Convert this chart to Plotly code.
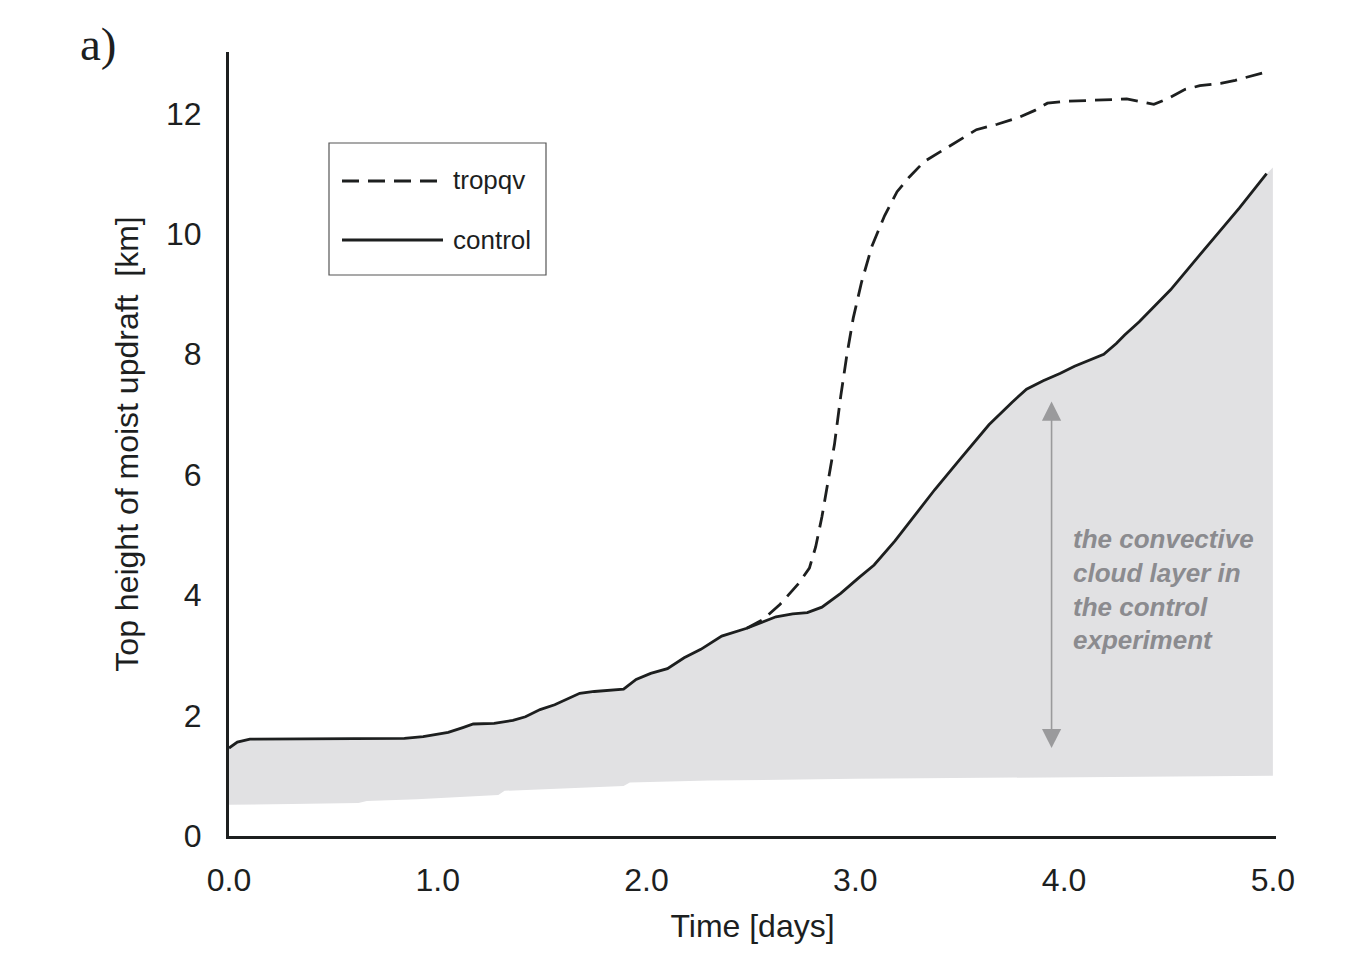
import plotly.graph_objects as go

# Time axis in days, heights in km
control_t = [0.0, 0.04, 0.1, 0.3, 0.5, 0.7, 0.84, 0.93, 1.05, 1.12, 1.17, 1.27, 1.36, 1.42,
             1.49, 1.56, 1.62, 1.68, 1.75, 1.89, 1.95, 2.02, 2.1, 2.18, 2.26, 2.36, 2.48,
             2.56, 2.62, 2.70, 2.77, 2.84, 2.93, 3.02, 3.09, 3.19, 3.28, 3.38, 3.5, 3.64,
             3.75, 3.82, 3.9, 3.98, 4.05, 4.12, 4.19, 4.25, 4.29, 4.36, 4.51, 4.65, 4.84, 4.97]
control_km = [1.46, 1.56, 1.61, 1.61, 1.61, 1.62, 1.62, 1.65, 1.72, 1.80, 1.86, 1.87, 1.92, 1.98,
              2.10, 2.18, 2.28, 2.37, 2.40, 2.44, 2.60, 2.70, 2.78, 2.96, 3.10, 3.32, 3.45,
              3.56, 3.64, 3.69, 3.71, 3.80, 4.03, 4.30, 4.50, 4.90, 5.30, 5.75, 6.25, 6.83,
              7.20, 7.42, 7.56, 7.68, 7.80, 7.90, 8.00, 8.18, 8.32, 8.54, 9.07, 9.65, 10.43, 11.00]

tropqv_t = [2.48, 2.56, 2.64, 2.73, 2.78, 2.81, 2.84, 2.87, 2.9, 2.93, 2.96, 2.99, 3.03, 3.08,
            3.14, 3.2, 3.26, 3.33, 3.4, 3.5, 3.58, 3.68, 3.78, 3.86, 3.92, 4.0, 4.1, 4.2,
            4.3, 4.36, 4.43, 4.5, 4.58, 4.65, 4.75, 4.82, 4.9, 4.98]
tropqv_km = [3.45, 3.60, 3.85, 4.20, 4.45, 4.80, 5.30, 5.90, 6.50, 7.30, 8.00, 8.60, 9.20, 9.80,
             10.30, 10.70, 10.95, 11.20, 11.35, 11.55, 11.73, 11.82, 11.93, 12.05, 12.17, 12.20,
             12.21, 12.23, 12.24, 12.20, 12.15, 12.25, 12.40, 12.46, 12.50, 12.55, 12.63, 12.70]

# Cloud-base height of the convective layer in the control run
base_t = [0.0, 0.1, 0.3, 0.62, 0.66, 0.9, 1.1, 1.29, 1.32, 1.6, 1.89, 1.92, 2.3, 3.0, 4.0, 5.0]
base_km = [0.52, 0.52, 0.53, 0.55, 0.58, 0.61, 0.64, 0.68, 0.75, 0.79, 0.83, 0.89, 0.92, 0.95, 0.98, 1.0]

layer_end_t = 5.0
layer_end_top = 11.1

x_ticks = [0.0, 1.0, 2.0, 3.0, 4.0, 5.0]
x_ticklabels = ["0.0", "1.0", "2.0", "3.0", "4.0", "5.0"]
y_ticks = [0, 2, 4, 6, 8, 10, 12]

series_names = ["tropqv", "control"]
arrow_t = 3.94
arrow_span = [1.46, 7.24]
layer_note = "the convective<br>cloud layer in<br>the control<br>experiment"

FONT = "Liberation Sans, Arial, Helvetica, sans-serif"
INK = "#1d1f1f"
LW = 2.8

fig = go.Figure()

# Shaded convective cloud layer: top follows control run, bottom is cloud base
poly_t = control_t + [layer_end_t] + base_t[::-1]
poly_km = control_km + [layer_end_top] + base_km[::-1]
fig.add_trace(go.Scatter(x=poly_t, y=poly_km, fill="toself", fillcolor="#e1e1e3",
                         line=dict(width=0), mode="lines", hoverinfo="skip", showlegend=False))

fig.add_trace(go.Scatter(x=tropqv_t, y=tropqv_km, mode="lines", name=series_names[0],
                         line=dict(color=INK, width=LW, dash="17px,9px"), showlegend=False))
fig.add_trace(go.Scatter(x=control_t, y=control_km, mode="lines", name=series_names[1],
                         line=dict(color=INK, width=LW), showlegend=False))

fig.update_xaxes(range=[0, 5.015], tickvals=x_ticks, ticktext=x_ticklabels,
                 showline=True, linewidth=3, linecolor=INK, showgrid=False, zeroline=False,
                 ticks="", ticklabelstandoff=14,
                 tickfont=dict(family=FONT, size=32, color=INK),
                 title=dict(text="Time [days]", font=dict(family=FONT, size=32, color=INK), standoff=18))
fig.update_yaxes(range=[0, 13.02], tickvals=y_ticks,
                 showline=True, linewidth=3, linecolor=INK, showgrid=False, zeroline=False,
                 ticks="", ticklabelstandoff=18,
                 tickfont=dict(family=FONT, size=32, color=INK),
                 title=dict(text="Top height of moist updraft\u00a0\u00a0[km]",
                            font=dict(family=FONT, size=32, color=INK), standoff=18))

L, R, T, B = 229, 89, 52, 118
W, H = 1365, 954
pw, ph = W - L - R, H - T - B


def px(xp):
    return (xp - L) / pw


def py(yp):
    return (H - B - yp) / ph


# Legend drawn as a framed box with long line samples
shapes = [
    dict(type="rect", xref="paper", yref="paper", x0=px(329), x1=px(546), y0=py(275), y1=py(143),
         line=dict(color="#555555", width=1.2), fillcolor="white"),
    dict(type="line", xref="paper", yref="paper", x0=px(342), x1=px(443), y0=py(181), y1=py(181),
         line=dict(color=INK, width=LW, dash="17px,9px")),
    dict(type="line", xref="paper", yref="paper", x0=px(342), x1=px(443), y0=py(240), y1=py(240),
         line=dict(color=INK, width=LW)),
]
annotations = [
    dict(xref="paper", yref="paper", x=px(451), y=py(180), text=series_names[0], showarrow=False,
         xanchor="left", yanchor="middle", font=dict(family=FONT, size=26, color=INK)),
    dict(xref="paper", yref="paper", x=px(451), y=py(240), text=series_names[1], showarrow=False,
         xanchor="left", yanchor="middle", font=dict(family=FONT, size=26, color=INK)),
    # double-headed arrow spanning the cloud layer
    dict(x=arrow_t, y=arrow_span[0], ax=arrow_t, ay=arrow_span[1], xref="x", yref="y",
         axref="x", ayref="y", text="", showarrow=True, arrowhead=2, arrowside="end+start",
         arrowsize=2.4, arrowwidth=1.6, arrowcolor="#9a9a9c", standoff=0, startstandoff=0),
    dict(xref="paper", yref="paper", x=px(1071), y=py(522), text="<b><i>" + layer_note + "</i></b>",
         showarrow=False, xanchor="left", yanchor="top", align="left",
         font=dict(family=FONT, size=26, color="#8b8b8f")),
    dict(xref="paper", yref="paper", x=px(78), y=py(44), text="a)", showarrow=False,
         xanchor="left", yanchor="middle",
         font=dict(family="Liberation Serif, DejaVu Serif, serif", size=47, color=INK)),
]

fig.update_layout(width=W, height=H, margin=dict(l=L, r=R, t=T, b=B),
                  plot_bgcolor="white", paper_bgcolor="white",
                  shapes=shapes, annotations=annotations, showlegend=False)

fig.write_html("out.html")
